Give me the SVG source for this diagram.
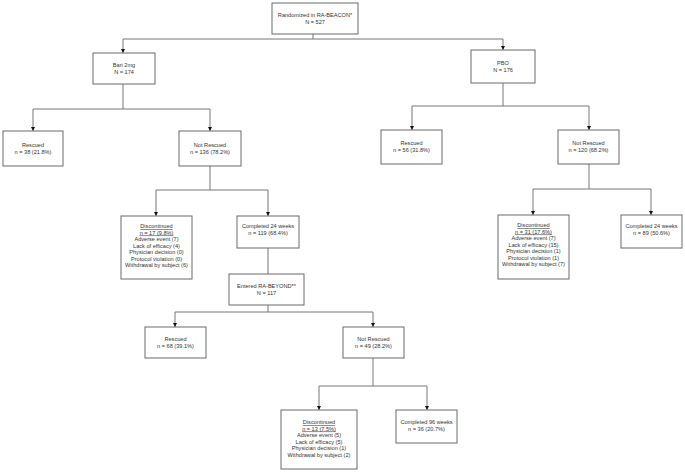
<svg xmlns="http://www.w3.org/2000/svg" width="685" height="472" viewBox="0 0 685 472">
<defs>
<marker id="ah" viewBox="0 0 6 6" refX="6" refY="3" markerWidth="4" markerHeight="4" orient="auto" markerUnits="userSpaceOnUse">
<path d="M0,0 L6,3 L0,6 Z" fill="#111"/>
</marker>
<style>
rect{fill:#fff;stroke:#6a6a6a;stroke-width:1}
text{font-family:"Liberation Sans",Arial,sans-serif;font-size:5.6px;fill:#333;text-anchor:middle}
.c{fill:none;stroke:#777;stroke-width:1}
.a{marker-end:url(#ah)}
.u{text-decoration:underline}
</style>
</defs>
<rect x="0" y="0" width="685" height="472" style="fill:#fff;stroke:none"/>
<g id="connectors">
<path class="c" d="M313,34 V39 M123,39 H503"/>
<path class="c a" d="M123,39 V53"/>
<path class="c a" d="M503,39 V50"/>
<path class="c" d="M123,84 V109 M33,109 H210"/>
<path class="c a" d="M33,109 V131"/>
<path class="c a" d="M210,109 V131"/>
<path class="c" d="M210,166 V190 M156,190 H268"/>
<path class="c a" d="M156,190 V216"/>
<path class="c a" d="M268,190 V216"/>
<path class="c" d="M268,248 V274"/>
<path class="c" d="M268,305 V312 M175,312 H373"/>
<path class="c a" d="M175,312 V327"/>
<path class="c a" d="M373,312 V327"/>
<path class="c" d="M373,358 V386 M319,386 H427"/>
<path class="c a" d="M319,386 V410"/>
<path class="c a" d="M427,386 V410"/>
<path class="c" d="M503,83 V106 M412,106 H589"/>
<path class="c a" d="M412,106 V130"/>
<path class="c a" d="M589,106 V130"/>
<path class="c" d="M589,164 V189 M533,189 H651"/>
<path class="c a" d="M533,189 V215"/>
<path class="c a" d="M651,189 V215"/>
</g>
<g id="randomized"><rect x="272" y="3" width="86" height="31"/><text x="315" y="17">Randomized in RA-BEACON*</text><text x="315" y="23.5">N = 527</text></g>
<g id="bari"><rect x="93" y="53" width="62" height="31"/><text x="124" y="67">Bari 2mg</text><text x="124" y="73.5">N = 174</text></g>
<g id="pbo"><rect x="471" y="50" width="64" height="33"/><text x="503" y="65">PBO</text><text x="503" y="71.5">N = 176</text></g>
<g id="bari-rescued"><rect x="3" y="131" width="60" height="35"/><text x="33" y="147">Rescued</text><text x="33" y="153.5">n = 38 (21.8%)</text></g>
<g id="bari-notrescued"><rect x="179" y="131" width="62" height="35"/><text x="210" y="147">Not Rescued</text><text x="210" y="153.5">n = 136 (78.2%)</text></g>
<g id="bari-discontinued"><rect x="121" y="216" width="71" height="63"/>
<text x="156.5" y="228"><tspan class="u">Discontinued</tspan></text>
<text x="156.5" y="234.5"><tspan class="u">n = 17 (9.8%)</tspan></text>
<text x="156.5" y="241">Adverse event (7)</text>
<text x="156.5" y="247.5">Lack of efficacy (4)</text>
<text x="156.5" y="254">Physician decision (0)</text>
<text x="156.5" y="260.5">Protocol violation  (0)</text>
<text x="156.5" y="267">Withdrawal by subject (6)</text></g>
<g id="bari-completed24"><rect x="237" y="216" width="62" height="32"/><text x="268" y="228">Completed  24 weeks</text><text x="268" y="234.5">n = 119 (68.4%)</text></g>
<g id="entered"><rect x="229" y="274" width="75" height="31"/><text x="266.5" y="288">Entered RA-BEYOND**</text><text x="266.5" y="294.5">N = 117</text></g>
<g id="beyond-rescued"><rect x="145" y="327" width="61" height="31"/><text x="175.5" y="341">Rescued</text><text x="175.5" y="347.5">n = 68 (39.1%)</text></g>
<g id="beyond-notrescued"><rect x="343" y="327" width="61" height="31"/><text x="373.5" y="341">Not Rescued</text><text x="373.5" y="347.5">n = 49 (28.2%)</text></g>
<g id="beyond-discontinued"><rect x="281" y="410" width="76" height="59"/>
<text x="319" y="424"><tspan class="u">Discontinued</tspan></text>
<text x="319" y="430.5"><tspan class="u">n = 13 (7.5%)</tspan></text>
<text x="319" y="437">Adverse event (5)</text>
<text x="319" y="443.5">Lack of efficacy (5)</text>
<text x="319" y="450">Physician decision (1)</text>
<text x="319" y="456.5">Withdrawal by subject (2)</text></g>
<g id="beyond-completed96"><rect x="396" y="410" width="61" height="33"/><text x="426.5" y="424">Completed  96 weeks</text><text x="426.5" y="430.5">n = 36 (20.7%)</text></g>
<g id="pbo-rescued"><rect x="381" y="130" width="61" height="34"/><text x="411.5" y="145">Rescued</text><text x="411.5" y="151.5">n = 56 (31.8%)</text></g>
<g id="pbo-notrescued"><rect x="558" y="130" width="61" height="34"/><text x="588.5" y="145">Not Rescued</text><text x="588.5" y="151.5">n = 120 (68.2%)</text></g>
<g id="pbo-discontinued"><rect x="498" y="215" width="71" height="64"/>
<text x="533.5" y="227"><tspan class="u">Discontinued</tspan></text>
<text x="533.5" y="233.5"><tspan class="u">n = 31 (17.6%)</tspan></text>
<text x="533.5" y="240">Adverse event (7)</text>
<text x="533.5" y="246.5">Lack of efficacy (15)</text>
<text x="533.5" y="253">Physician decision (1)</text>
<text x="533.5" y="259.5">Protocol violation  (1)</text>
<text x="533.5" y="266">Withdrawal by subject (7)</text></g>
<g id="pbo-completed24"><rect x="621" y="215" width="61" height="33"/><text x="651.5" y="228">Completed  24 weeks</text><text x="651.5" y="234.5">n = 89 (50.6%)</text></g>
</svg>
